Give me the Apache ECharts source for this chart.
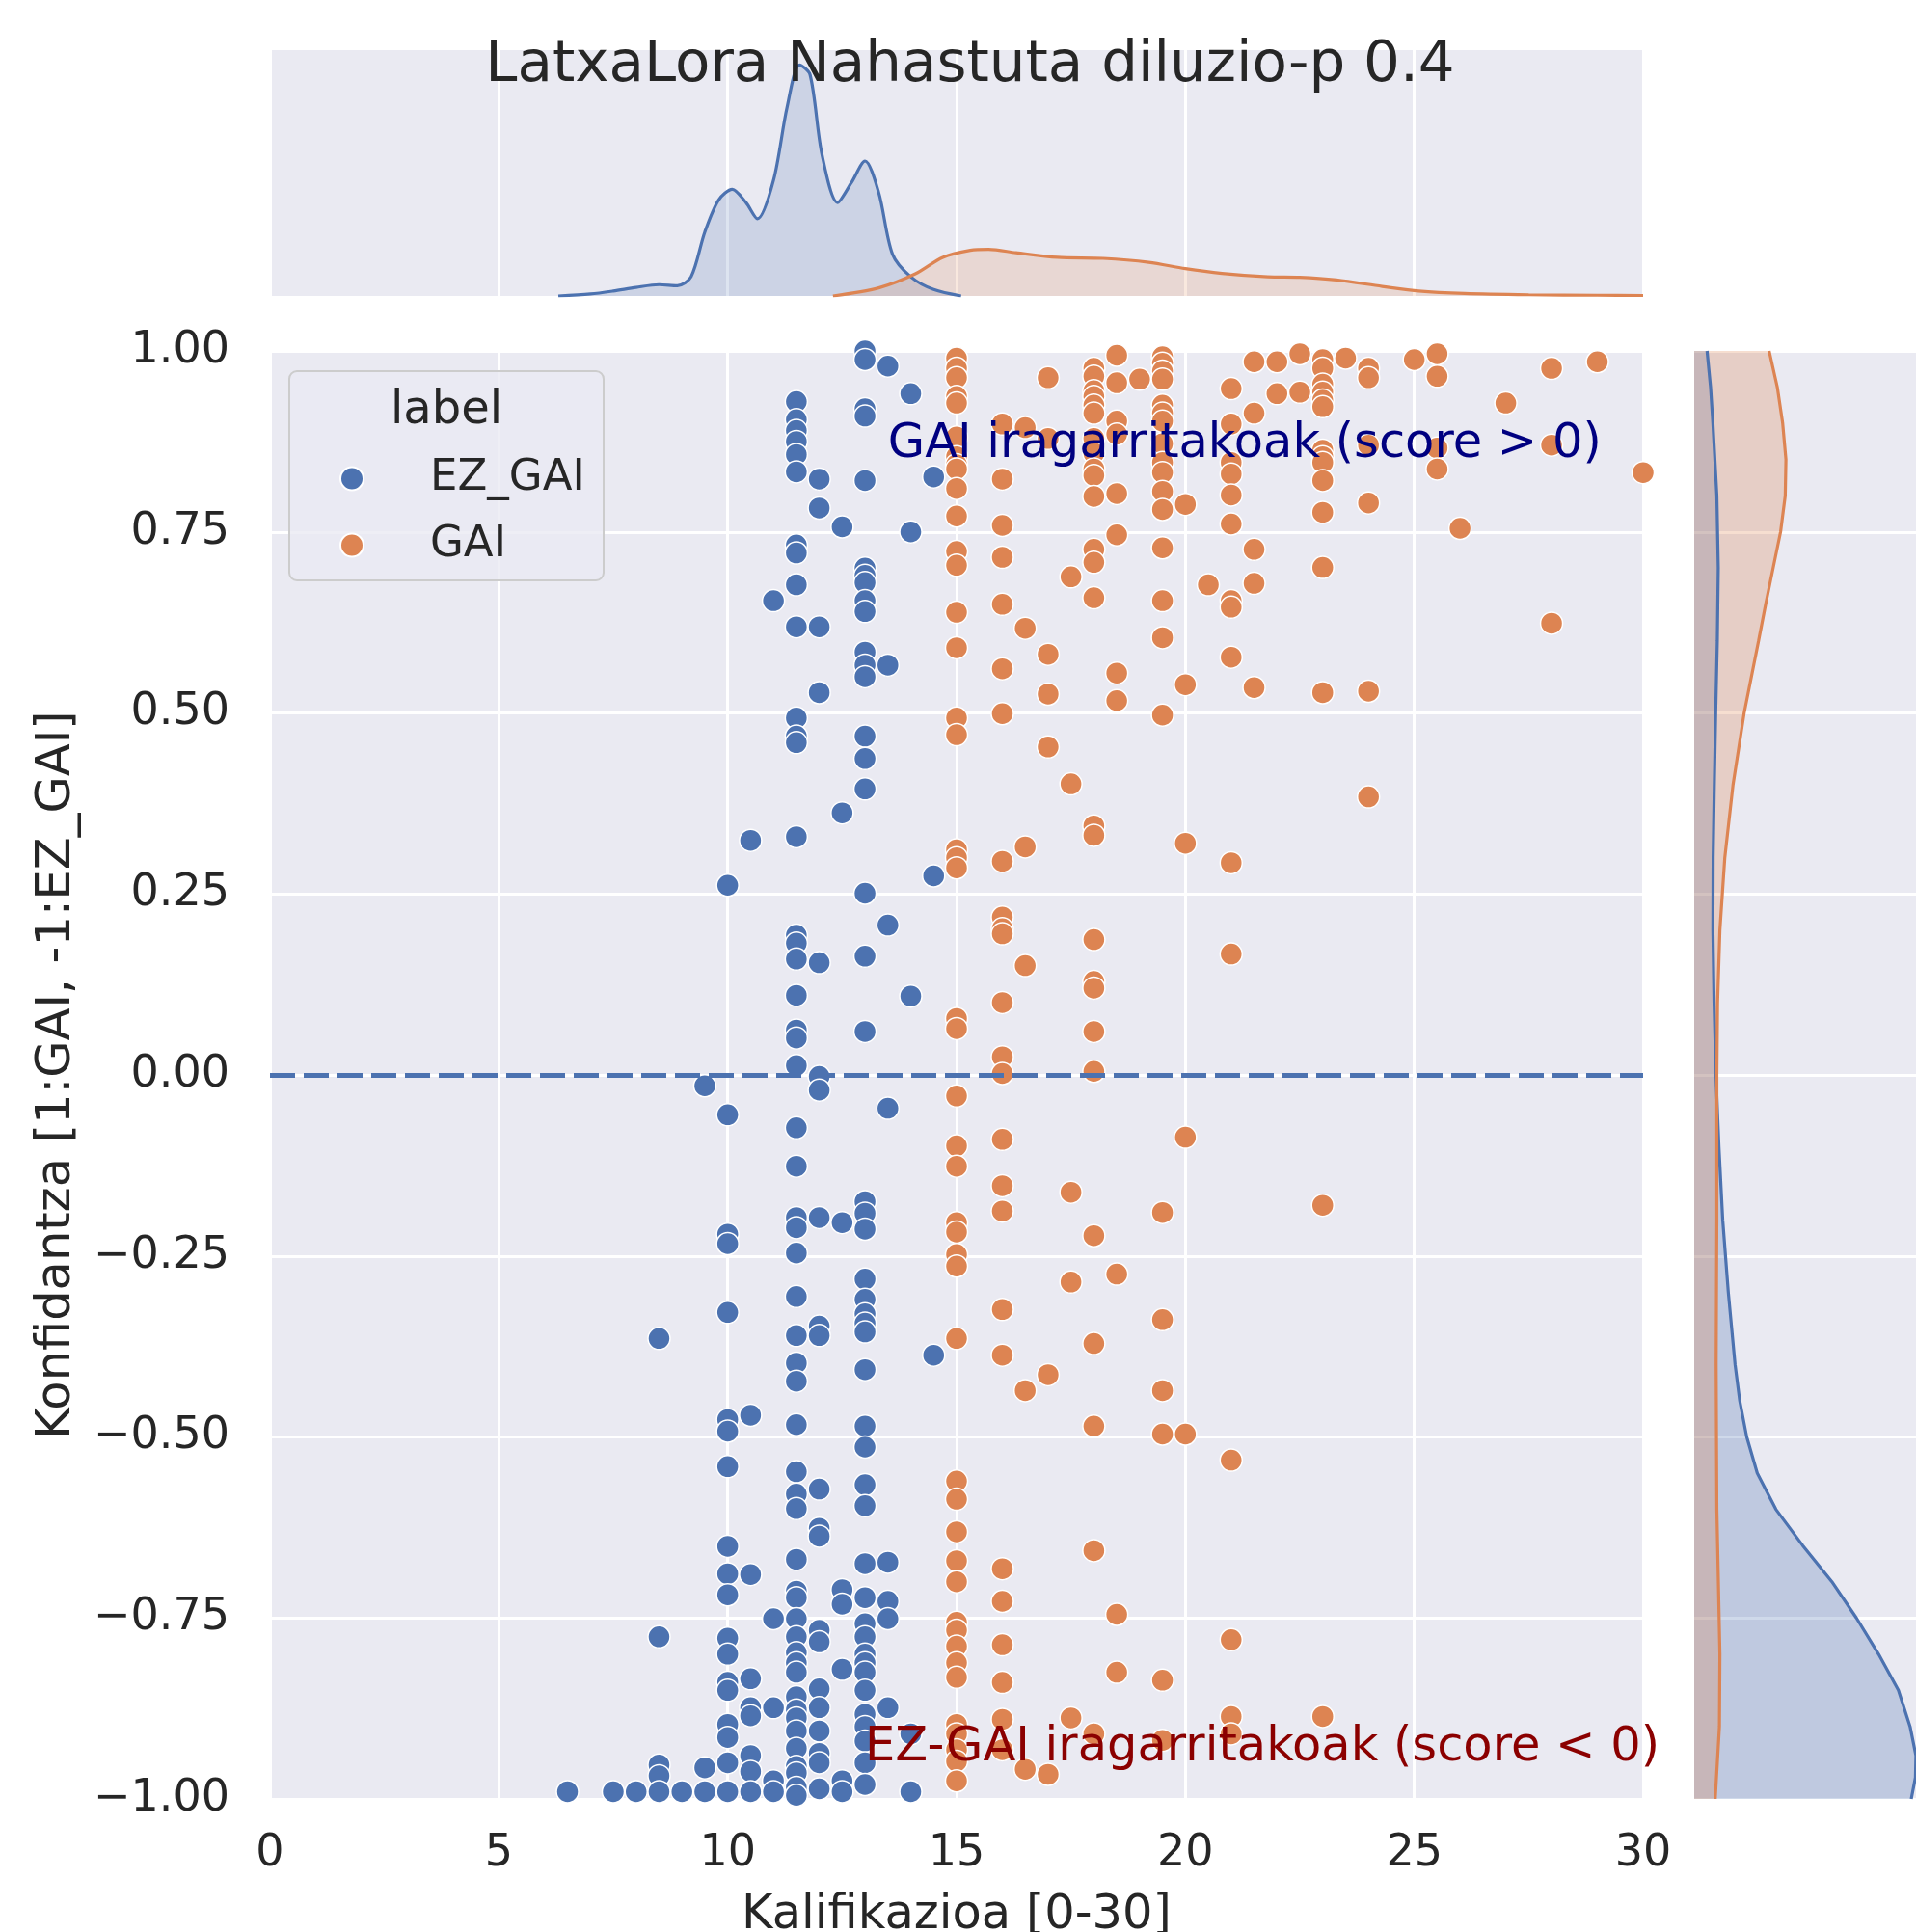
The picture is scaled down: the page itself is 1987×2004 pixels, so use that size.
<!DOCTYPE html>
<html><head><meta charset="utf-8">
<script src="https://cdn.jsdelivr.net/npm/echarts@6/dist/echarts.min.js"></script>
<style>html,body{margin:0;padding:0;background:#fff;overflow:hidden}#c{width:1987px;height:2004px}</style>
</head><body><div id="c"></div>
<script>
const FONT = 'DejaVu Sans';
const titleText = 'LatxaLora Nahastuta diluzio-p 0.4';
const xAxisName = 'Kalifikazioa [0-30]';
const yAxisName = 'Konfidantza [1:GAI, -1:EZ_GAI]';
const seriesNames = ['EZ_GAI', 'GAI'];
const legendTitle = 'label';
const gaiNote = 'GAI iragarritakoak (score > 0)';
const ezNote = 'EZ-GAI iragarritakoak (score < 0)';
const gaiNotePos = [13.5, 0.85];
const ezNotePos = [13, -0.95];

// EZ_GAI scatter points [score, confidence]
const ezGaiPoints = [
 [6.5,-0.99],[7.5,-0.99],[8,-0.99],
 [8.5,-0.364],[8.5,-0.776],[8.5,-0.953],[8.5,-0.968],[8.5,-0.99],
 [9,-0.99],
 [9.5,-0.015],[9.5,-0.957],[9.5,-0.99],
 [10,0.262],[10,-0.055],[10,-0.22],[10,-0.233],[10,-0.328],[10,-0.476],[10,-0.492],[10,-0.541],[10,-0.651],[10,-0.689],[10,-0.718],[10,-0.778],[10,-0.80],[10,-0.839],[10,-0.85],[10,-0.897],[10,-0.915],[10,-0.95],[10,-0.99],
 [10.5,0.324],[10.5,-0.47],[10.5,-0.69],[10.5,-0.834],[10.5,-0.874],[10.5,-0.885],[10.5,-0.94],[10.5,-0.962],[10.5,-0.99],
 [11,0.655],[11,-0.751],[11,-0.874],[11,-0.975],[11,-0.99],
 [11.5,0.93],[11.5,0.905],[11.5,0.89],[11.5,0.875],[11.5,0.857],[11.5,0.833],[11.5,0.732],[11.5,0.721],[11.5,0.677],[11.5,0.619],[11.5,0.493],[11.5,0.468],[11.5,0.459],[11.5,0.329],[11.5,0.193],[11.5,0.182],[11.5,0.16],[11.5,0.11],[11.5,0.062],[11.5,0.051],[11.5,0.013],[11.5,-0.073],[11.5,-0.126],[11.5,-0.197],[11.5,-0.211],[11.5,-0.246],[11.5,-0.306],[11.5,-0.36],[11.5,-0.398],[11.5,-0.423],[11.5,-0.483],[11.5,-0.548],[11.5,-0.579],[11.5,-0.599],[11.5,-0.669],[11.5,-0.713],[11.5,-0.722],[11.5,-0.751],[11.5,-0.776],[11.5,-0.798],[11.5,-0.812],[11.5,-0.825],[11.5,-0.859],[11.5,-0.877],[11.5,-0.888],[11.5,-0.906],[11.5,-0.93],[11.5,-0.955],[11.5,-0.964],[11.5,-0.984],[11.5,-0.995],
 [12,0.823],[12,0.783],[12,0.619],[12,0.528],[12,0.155],[12,-0.002],[12,-0.021],[12,-0.197],[12,-0.347],[12,-0.36],[12,-0.572],[12,-0.626],[12,-0.637],[12,-0.767],[12,-0.783],[12,-0.848],[12,-0.874],[12,-0.906],[12,-0.937],[12,-0.95],[12,-0.986],
 [12.5,0.757],[12.5,0.362],[12.5,-0.204],[12.5,-0.711],[12.5,-0.731],[12.5,-0.821],[12.5,-0.975],[12.5,-0.99],
 [13,1.0],[13,0.988],[13,0.92],[13,0.91],[13,0.821],[13,0.70],[13,0.69],[13,0.68],[13,0.655],[13,0.64],[13,0.584],[13,0.566],[13,0.55],[13,0.468],[13,0.437],[13,0.395],[13,0.251],[13,0.164],[13,0.06],[13,-0.175],[13,-0.191],[13,-0.213],[13,-0.282],[13,-0.31],[13,-0.33],[13,-0.343],[13,-0.355],[13,-0.407],[13,-0.485],[13,-0.514],[13,-0.566],[13,-0.595],[13,-0.675],[13,-0.722],[13,-0.758],[13,-0.776],[13,-0.80],[13,-0.812],[13,-0.825],[13,-0.85],[13,-0.883],[13,-0.90],[13,-0.92],[13,-0.95],[13,-0.98],
 [13.5,0.979],[13.5,0.566],[13.5,0.207],[13.5,-0.046],[13.5,-0.673],[13.5,-0.727],[13.5,-0.751],[13.5,-0.874],
 [14,0.941],[14,0.75],[14,0.109],[14,-0.91],[14,-0.99],
 [14.5,0.826],[14.5,0.275],[14.5,-0.387]
];

// GAI scatter points [score, confidence]
const gaiPoints = [
 [15,0.99],[15,0.976],[15,0.963],[15,0.937],[15,0.928],[15,0.881],[15,0.854],[15,0.843],[15,0.837],[15,0.81],[15,0.772],[15,0.723],[15,0.704],[15,0.639],[15,0.59],[15,0.493],[15,0.47],[15,0.311],[15,0.3],[15,0.286],[15,0.078],[15,0.064],[15,-0.029],[15,-0.098],[15,-0.126],[15,-0.204],[15,-0.217],[15,-0.248],[15,-0.264],[15,-0.364],[15,-0.561],[15,-0.586],[15,-0.631],[15,-0.671],[15,-0.70],[15,-0.756],[15,-0.767],[15,-0.789],[15,-0.812],[15,-0.832],[15,-0.897],[15,-0.91],[15,-0.932],[15,-0.948],[15,-0.975],
 [16,0.899],[16,0.823],[16,0.759],[16,0.715],[16,0.65],[16,0.561],[16,0.499],[16,0.295],[16,0.218],[16,0.202],[16,0.195],[16,0.10],[16,0.025],[16,0.002],[16,-0.089],[16,-0.153],[16,-0.188],[16,-0.324],[16,-0.387],[16,-0.682],[16,-0.727],[16,-0.787],[16,-0.839],[16,-0.89],[16,-0.932],
 [16.5,0.894],[16.5,0.617],[16.5,0.315],[16.5,0.151],[16.5,-0.436],[16.5,-0.959],
 [17,0.963],[17,0.879],[17,0.581],[17,0.526],[17,0.453],[17,-0.414],[17,-0.966],
 [17.5,0.688],[17.5,0.402],[17.5,-0.162],[17.5,-0.286],[17.5,-0.888],
 [18,0.976],[18,0.965],[18,0.945],[18,0.937],[18,0.925],[18,0.914],[18,0.879],[18,0.859],[18,0.837],[18,0.828],[18,0.799],[18,0.726],[18,0.708],[18,0.659],[18,0.344],[18,0.331],[18,0.187],[18,0.129],[18,0.12],[18,0.06],[18,0.005],[18,-0.222],[18,-0.371],[18,-0.485],[18,-0.657],[18,-0.91],
 [18.5,0.994],[18.5,0.956],[18.5,0.903],[18.5,0.885],[18.5,0.803],[18.5,0.746],[18.5,0.555],[18.5,0.517],[18.5,-0.275],[18.5,-0.745],[18.5,-0.825],
 [19,0.961],
 [19.5,0.992],[19.5,0.983],[19.5,0.972],[19.5,0.961],[19.5,0.925],[19.5,0.914],[19.5,0.903],[19.5,0.872],[19.5,0.846],[19.5,0.832],[19.5,0.806],[19.5,0.781],[19.5,0.728],[19.5,0.655],[19.5,0.604],[19.5,0.497],[19.5,-0.19],[19.5,-0.338],[19.5,-0.436],[19.5,-0.496],[19.5,-0.836],[19.5,-0.919],
 [20,0.788],[20,0.539],[20,0.32],[20,-0.086],[20,-0.496],
 [20.5,0.677],
 [21,0.948],[21,0.899],[21,0.846],[21,0.83],[21,0.801],[21,0.761],[21,0.655],[21,0.646],[21,0.577],[21,0.293],[21,0.167],[21,-0.532],[21,-0.78],[21,-0.886],[21,-0.91],
 [21.5,0.985],[21.5,0.914],[21.5,0.726],[21.5,0.679],[21.5,0.535],
 [22,0.985],[22,0.941],
 [22.5,0.996],[22.5,0.943],
 [23,0.988],[23,0.976],[23,0.954],[23,0.943],[23,0.932],[23,0.923],[23,0.863],[23,0.854],[23,0.846],[23,0.821],[23,0.777],[23,0.701],[23,0.528],[23,-0.18],[23,-0.886],
 [23.5,0.99],
 [24,0.976],[24,0.963],[24,0.87],[24,0.79],[24,0.53],[24,0.384],
 [25,0.988],
 [25.5,0.996],[25.5,0.965],[25.5,0.866],[25.5,0.837],
 [26,0.755],
 [27,0.928],
 [28,0.976],[28,0.87],[28,0.624],
 [29,0.985],
 [30,0.832]
];

// Top marginal density (relative to panel height)
const kdeTopXEz = [6.3,7.0,7.5,8.0,8.5,8.9,9.2,9.5,9.8,10.1,10.4,10.65,11.0,11.3,11.57,11.8,12.06,12.4,12.7,13.0,13.3,13.6,14.0,14.5,15.1];
const kdeTopEz  = [0,0.008,0.02,0.035,0.046,0.042,0.078,0.26,0.39,0.434,0.38,0.314,0.47,0.77,0.94,0.9,0.575,0.38,0.46,0.549,0.42,0.17,0.078,0.026,0];
const kdeTopXGai = [12.3,13.3,14.1,14.7,15.3,15.7,16.3,17.2,18.2,19.2,20.0,20.8,21.8,22.5,23.3,24.3,25.1,26.1,27.5,29.0,30.0];
const kdeTopGai  = [0,0.033,0.09,0.157,0.186,0.19,0.176,0.157,0.153,0.137,0.111,0.092,0.078,0.076,0.065,0.039,0.02,0.01,0.005,0.003,0.002];

// Right marginal density (relative to panel width)
const kdeRightYEz = [1.0,0.95,0.9,0.8,0.7,0.6,0.5,0.4,0.3,0.2,0.1,0.0,-0.1,-0.2,-0.3,-0.4,-0.45,-0.5,-0.55,-0.6,-0.65,-0.7,-0.75,-0.8,-0.85,-0.9,-0.94,-0.97,-1.0];
const kdeRightEz  = [0.055,0.07,0.08,0.097,0.103,0.099,0.092,0.086,0.081,0.08,0.085,0.093,0.106,0.122,0.146,0.175,0.195,0.225,0.27,0.35,0.465,0.59,0.695,0.79,0.875,0.925,0.95,0.948,0.93];
const kdeRightYGai = [1.0,0.95,0.9,0.85,0.8,0.75,0.7,0.65,0.6,0.5,0.4,0.3,0.2,0.1,0.0,-0.2,-0.4,-0.6,-0.8,-0.9,-1.0];
const kdeRightGai  = [0.321,0.356,0.379,0.393,0.39,0.37,0.338,0.306,0.276,0.214,0.166,0.131,0.11,0.1,0.097,0.097,0.094,0.097,0.11,0.108,0.09];

const BLUE = '#4c72b0', ORANGE = '#dd8452';
const BLUE_FILL = 'rgba(76,114,176,0.27)', ORANGE_FILL = 'rgba(221,132,82,0.27)';
const TXT = '#262626', BG = '#eaeaf2';

const chart = echarts.init(document.getElementById('c'), null, {renderer: 'canvas'});

function zip(xs, ys) { return xs.map((x, i) => [x, ys[i]]); }
function fmtY(v) { return (v < 0 ? '\u2212' : '') + Math.abs(v).toFixed(2); }

function rightFill(name, xs, ys, color) {
  return {
    name: name, type: 'custom', xAxisIndex: 2, yAxisIndex: 2, silent: true, clip: true, z: 1,
    data: zip(xs, ys),
    renderItem: function (params, api) {
      if (params.dataIndex !== 0) return null;
      const pts = [api.coord([0, ys[0]])];
      for (let i = 0; i < ys.length; i++) pts.push(api.coord([xs[i], ys[i]]));
      pts.push(api.coord([0, ys[ys.length - 1]]));
      return {type: 'polygon', shape: {points: pts}, style: {fill: color}};
    }
  };
}

const noAxis = {axisLine: {show: false}, axisTick: {show: false}, axisLabel: {show: false}};
const whiteSplit = {show: true, lineStyle: {color: '#ffffff', width: 3}};
const gridBase = {show: true, backgroundColor: BG, borderWidth: 0, containLabel: false, outerBoundsMode: 'none'};

const option = {
  backgroundColor: '#ffffff',
  animation: false,
  textStyle: {fontFamily: FONT},
  grid: [
    Object.assign({left: 280, top: 364, width: 1424, height: 1502}, gridBase),
    Object.assign({left: 280, top: 52, width: 1424, height: 255}, gridBase),
    Object.assign({left: 1757, top: 364, width: 242, height: 1502}, gridBase)
  ],
  xAxis: [
    {gridIndex: 0, type: 'value', min: 0, max: 30, interval: 5,
     axisLine: {show: false}, axisTick: {show: false}, splitLine: whiteSplit,
     axisLabel: {fontSize: 46, color: TXT, margin: 34, fontFamily: FONT},
     name: xAxisName, nameLocation: 'middle', nameGap: 96,
     nameTextStyle: {fontSize: 49.5, color: TXT, fontFamily: FONT}},
    Object.assign({gridIndex: 1, type: 'value', min: 0, max: 30, interval: 5, splitLine: whiteSplit}, noAxis),
    Object.assign({gridIndex: 2, type: 'value', min: 0, max: 1, splitLine: {show: false}}, noAxis)
  ],
  yAxis: [
    {gridIndex: 0, type: 'value', min: -1, max: 1, interval: 0.25,
     axisLine: {show: false}, axisTick: {show: false}, splitLine: whiteSplit,
     axisLabel: {fontSize: 46, color: TXT, margin: 42, fontFamily: FONT, formatter: fmtY, padding: [7, 0, 0, 0]},
     name: yAxisName, nameLocation: 'middle', nameGap: 196, nameRotate: 90,
     nameTextStyle: {fontSize: 49.5, color: TXT, fontFamily: FONT}},
    Object.assign({gridIndex: 1, type: 'value', min: 0, max: 1, splitLine: {show: false}}, noAxis),
    Object.assign({gridIndex: 2, type: 'value', min: -1, max: 1, interval: 0.25, splitLine: whiteSplit}, noAxis)
  ],
  legend: {
    data: seriesNames, orient: 'vertical', left: 352, top: 474, padding: 0,
    itemWidth: 24, itemHeight: 24, itemGap: 24, z: 12,
    textStyle: {fontSize: 45, color: TXT, fontFamily: FONT, padding: [0, 0, 0, 64]}
  },
  series: [
    {name: seriesNames[0], type: 'scatter', xAxisIndex: 0, yAxisIndex: 0, data: ezGaiPoints,
     symbol: 'circle', symbolSize: 23, clip: true,
     itemStyle: {color: BLUE, borderColor: '#ffffff', borderWidth: 1.5, opacity: 1}},
    {name: seriesNames[1], type: 'scatter', xAxisIndex: 0, yAxisIndex: 0, data: gaiPoints,
     symbol: 'circle', symbolSize: 23, clip: true,
     itemStyle: {color: ORANGE, borderColor: '#ffffff', borderWidth: 1.5, opacity: 1},
     markLine: {silent: true, symbol: ['none', 'none'], label: {show: false},
       lineStyle: {color: BLUE, type: [26, 9], width: 5, opacity: 1},
       data: [{yAxis: 0}]}},
    {name: 'kdeTopEz', type: 'line', xAxisIndex: 1, yAxisIndex: 1, data: zip(kdeTopXEz, kdeTopEz),
     smooth: 0.3, symbol: 'none', lineStyle: {color: BLUE, width: 3.2}, areaStyle: {color: BLUE_FILL}},
    {name: 'kdeTopGai', type: 'line', xAxisIndex: 1, yAxisIndex: 1, data: zip(kdeTopXGai, kdeTopGai),
     smooth: 0.3, symbol: 'none', lineStyle: {color: ORANGE, width: 3.2}, areaStyle: {color: ORANGE_FILL}},
    rightFill('kdeRightEzFill', kdeRightEz, kdeRightYEz, BLUE_FILL),
    rightFill('kdeRightGaiFill', kdeRightGai, kdeRightYGai, ORANGE_FILL),
    {name: 'kdeRightEz', type: 'line', xAxisIndex: 2, yAxisIndex: 2, data: zip(kdeRightEz, kdeRightYEz),
     smooth: false, symbol: 'none', lineStyle: {color: BLUE, width: 3.2}},
    {name: 'kdeRightGai', type: 'line', xAxisIndex: 2, yAxisIndex: 2, data: zip(kdeRightGai, kdeRightYGai),
     smooth: false, symbol: 'none', lineStyle: {color: ORANGE, width: 3.2}}
  ]
};
chart.setOption(option);

const pG = chart.convertToPixel({xAxisIndex: 0, yAxisIndex: 0}, gaiNotePos);
const pE = chart.convertToPixel({xAxisIndex: 0, yAxisIndex: 0}, ezNotePos);
chart.setOption({
  graphic: [
    {type: 'rect', z: 10, silent: true, shape: {x: 300, y: 385, width: 326, height: 217, r: 8},
     style: {fill: 'rgba(234,234,242,0.8)', stroke: '#cccccc', lineWidth: 2}},
    {type: 'text', z: 11, silent: true, x: 463, y: 427,
     style: {text: legendTitle, font: '48px "DejaVu Sans"', fill: TXT, align: 'center', verticalAlign: 'middle'}},
    {type: 'text', z: 20, silent: true, x: 1006, y: 69,
     style: {text: titleText, font: '59.5px "DejaVu Sans"', fill: TXT, align: 'center', verticalAlign: 'middle'}},
    {type: 'text', z: 20, silent: true, x: pG[0], y: pG[1] - 16,
     style: {text: gaiNote, font: '49.5px "DejaVu Sans"', fill: '#000080', align: 'left', verticalAlign: 'middle'}},
    {type: 'text', z: 20, silent: true, x: pE[0], y: pE[1] - 15,
     style: {text: ezNote, font: '49.5px "DejaVu Sans"', fill: '#8b0000', align: 'left', verticalAlign: 'middle'}}
  ]
});
</script>
</body></html>
